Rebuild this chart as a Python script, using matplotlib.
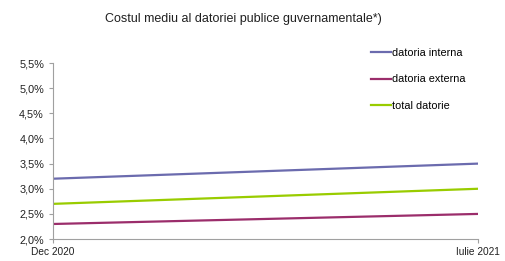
import matplotlib
matplotlib.use('Agg')
import matplotlib.pyplot as plt
from matplotlib.ticker import FuncFormatter

plt.rcParams['font.family'] = ['Liberation Sans', 'DejaVu Sans']

perioade = ['Dec 2020', 'Iulie 2021']
datoria_interna = [3.2, 3.5]
datoria_externa = [2.3, 2.5]
total_datorie = [2.7, 3.0]
y_ticks = [2.0, 2.5, 3.0, 3.5, 4.0, 4.5, 5.0, 5.5]

fig = plt.figure(figsize=(5.05, 2.61), dpi=100)
ax = fig.add_axes([0.105, 0.084, 0.8415, 0.6746])

x = list(range(len(perioade)))
ax.plot(x, datoria_interna, color='#6B6BAE', lw=1.6, label='datoria interna')
ax.plot(x, datoria_externa, color='#9B2D6B', lw=1.6, label='datoria externa')
ax.plot(x, total_datorie, color='#99CC00', lw=1.6, label='total datorie')

ax.set_xlim(0, 1)
ax.set_ylim(2.0, 5.5)
ax.set_yticks(y_ticks)
ax.yaxis.set_major_formatter(FuncFormatter(lambda v, p: f'{v:.1f}%'.replace('.', ',')))
ax.set_xticks(x)
ax.set_xticklabels(perioade)

for s in ['top', 'right']:
    ax.spines[s].set_visible(False)
for s in ['left', 'bottom']:
    ax.spines[s].set_color('#A0A0A0')
    ax.spines[s].set_linewidth(0.8)
ax.tick_params(axis='both', colors='#A0A0A0', labelcolor='#202020', length=3, width=0.8)
ax.tick_params(axis='y', labelsize=7.8)
ax.tick_params(axis='x', labelsize=7.3, pad=3)

fig.text(0.482, 0.928, 'Costul mediu al datoriei publice guvernamentale*)', ha='center', va='center',
         fontsize=9, color='#202020')

ax.legend(loc='upper left', bbox_to_anchor=(0.715, 0.853), bbox_transform=fig.transFigure,
          frameon=False, fontsize=7.8, handlelength=1.9, handletextpad=0.1, labelspacing=1.5)

fig.savefig('out.png', dpi=100)
